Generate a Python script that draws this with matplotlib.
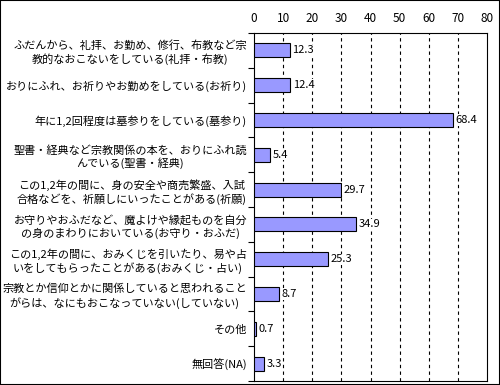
import numpy as np
import matplotlib.pyplot as plt
from matplotlib.patches import Rectangle

plt.rcParams['font.family'] = ['Noto Sans CJK JP', 'DejaVu Sans']

labels = [
    'ふだんから、礼拝、お勤め、修行、布教など宗\n教的なおこないをしている(礼拝・布教)',
    'おりにふれ、お祈りやお勤めをしている(お祈り)',
    '年に1,2回程度は墓参りをしている(墓参り)',
    '聖書・経典など宗教関係の本を、おりにふれ読\nんでいる(聖書・経典)',
    'この1,2年の間に、身の安全や商売繁盛、入試\n合格などを、祈願しにいったことがある(祈願)',
    'お守りやおふだなど、魔よけや縁起ものを自分\nの身のまわりにおいている(お守り・おふだ)',
    'この1,2年の間に、おみくじを引いたり、易や占\nいをしてもらったことがある(おみくじ・占い)',
    '宗教とか信仰とかに関係していると思われること\nがらは、なにもおこなっていない(していない)',
    'その他',
    '無回答(NA)',
]
values = [12.3, 12.4, 68.4, 5.4, 29.7, 34.9, 25.3, 8.7, 0.7, 3.3]
xticks = [0, 10, 20, 30, 40, 50, 60, 70, 80]

fig = plt.figure(figsize=(5, 3.85), dpi=100)
ax = fig.add_axes([0.508, 0.0104, 0.466, 0.904])

y = np.arange(len(values))
ax.barh(y, values, height=0.4, color='#9999ff', edgecolor='black', linewidth=0.8, zorder=3)
for yi, v in zip(y, values):
    ax.text(v + 0.9, yi, f'{v}', va='center', ha='left', fontsize=8, zorder=4,
            bbox=dict(facecolor='white', edgecolor='none', pad=0.5))

ax.set_xlim(0, 80)
ax.set_ylim(len(values) - 0.5, -0.5)
ax.xaxis.tick_top()
ax.set_xticks(xticks)
ax.tick_params(axis='x', length=0, labelsize=8.5, pad=6)
for t in xticks[1:-1]:
    ax.axvline(t, color='black', linestyle=(0, (3, 3)), linewidth=0.8, zorder=1)

# boundary ticks on the left, labels at category centres
ax.set_yticks(np.arange(-0.5, len(values), 1.0))
ax.set_yticklabels([])
ax.tick_params(axis='y', length=4, width=0.8)
ax.set_yticks(y, minor=True)
ax.set_yticklabels(labels, minor=True, fontsize=8, multialignment='center', linespacing=1.25)
ax.tick_params(axis='y', which='minor', length=0, pad=5)

for s in ax.spines.values():
    s.set_linewidth(0.8)

fig.patches.append(Rectangle((0, 0), 1, 1, transform=fig.transFigure,
                             fill=False, edgecolor='black', linewidth=1.5))

fig.savefig('out.png', dpi=100)
